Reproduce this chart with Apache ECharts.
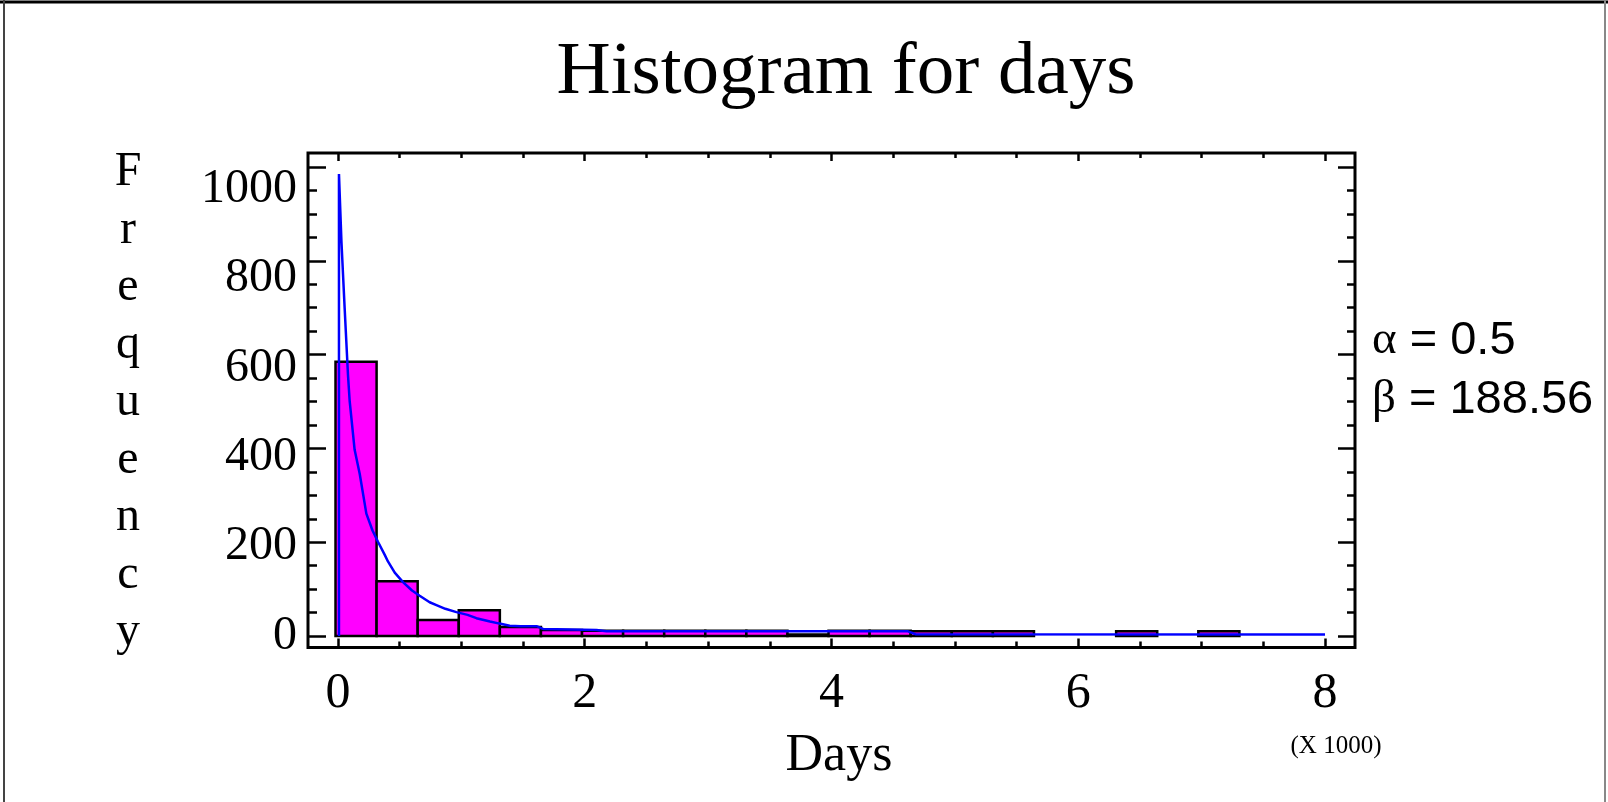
<!DOCTYPE html>
<html><head><meta charset="utf-8">
<script src="https://cdn.jsdelivr.net/npm/echarts@6/dist/echarts.min.js"></script>
<style>html,body{margin:0;padding:0;background:#fff}#c{width:1608px;height:802px}</style>
</head><body><div id="c"></div>
<script>
// ---- data ----
const binStart = -20;          // days
const binWidth = 333;          // days
const binCounts = [585,117,34,55,19,13,11,11,11,11,11,3,11,11,10,10,10,0,0,10,0,10,0,0];
const curveDays = [8,8,28,54,81,95,135,176,230,280,324,379,405,460,527,600,662,743,798,870,960,1050,1122,1232,1300,1392,1480,1609,1662,2095,2176,4620,4680,8000];
const curveFreq = [0,985,841,699,557,500,397,346,261,225,201,173,159,135,115,97,86,72,66,58,51,45,38,31,27,22,21,21,15,13,10,10,4,3];
const xMajorTicks = [0,2000,4000,6000,8000];
const xMinorTicks = [0,500,1000,1500,2000,2500,3000,3500,4000,4500,5000,5500,6000,6500,7000,7500,8000];
const xTickLabels = ['0','2','4','6','8'];
const yMajorTicks = [0,200,400,600,800,1000];
const yMinorTicks = [0,50,100,150,200,250,300,350,400,450,500,550,600,650,700,750,800,850,900,950,1000];
const yTickLabels = ['0','200','400','600','800','1000'];
const titleText = 'Histogram for days';
const xName = 'Days';
const xUnit = '(X 1000)';
const yName = 'Frequency';
const alphaText = '0.5';
const betaText = '188.56';

// ---- chart ----
const chart = echarts.init(document.getElementById('c'), null, {renderer:'canvas'});
const SERIF = 'Liberation Serif';
const SANS = 'Liberation Sans';

function xAx(pos, vals, len, labels) {
  return {
    type:'value', position:pos, min:-243, max:8243,
    axisLine:{show:false, onZero:false}, splitLine:{show:false},
    axisTick:{show:true, inside:true, length:len, customValues:vals, lineStyle:{color:'#000', width:2.5}},
    axisLabel: labels ? {show:true, customValues:xMajorTicks,
      formatter:(v)=>xTickLabels[xMajorTicks.indexOf(v)] ?? '',
      fontFamily:SERIF, fontSize:50, lineHeight:50, color:'#000', margin:21} : {show:false}
  };
}
function yAx(pos, vals, len) {
  return {
    type:'value', position:pos, min:-24.5, max:1029.8,
    axisLine:{show:false, onZero:false}, splitLine:{show:false},
    axisTick:{show:true, inside:true, length:len, customValues:vals, lineStyle:{color:'#000', width:2.5}},
    axisLabel:{show:false}
  };
}

const histData = [];
binCounts.forEach((c,i)=>{ if (c>0) histData.push([binStart+i*binWidth, binStart+(i+1)*binWidth, c]); });
const curveData = curveDays.map((d,i)=>[d, curveFreq[i]]);

const option = {
  animation:false,
  backgroundColor:'#fff',
  grid:{left:308, top:153, width:1047, height:494.5, show:true, borderColor:'#000', borderWidth:3, backgroundColor:'transparent'},
  xAxis:[
    xAx('bottom', xMajorTicks, 9, true),
    xAx('bottom', xMinorTicks, 6, false),
    xAx('top', xMajorTicks, 8, false),
    xAx('top', xMinorTicks, 5, false)
  ],
  yAxis:[
    yAx('left', yMajorTicks, 18),
    yAx('left', yMinorTicks, 9),
    yAx('right', yMajorTicks, 17),
    yAx('right', yMinorTicks, 8),
    {type:'value', position:'left', min:-25.5, max:1081,
     axisLine:{show:false, onZero:false}, splitLine:{show:false}, axisTick:{show:false},
     axisLabel:{show:true, customValues:yMajorTicks,
       formatter:(v)=>yTickLabels[yMajorTicks.indexOf(v)] ?? '',
       fontFamily:SERIF, fontSize:48, color:'#000', margin:11}}
  ],
  series:[
    {type:'custom', xAxisIndex:0, yAxisIndex:0, data:histData,
     encode:{x:[0,1], y:2},
     renderItem:(params, api)=>{
       const p0 = api.coord([api.value(0), api.value(2)]);
       const p1 = api.coord([api.value(1), 0]);
       return {type:'rect', shape:{x:p0[0], y:p0[1], width:p1[0]-p0[0], height:p1[1]-p0[1]},
               style:{fill:'#FF00FF', stroke:'#000', lineWidth:2.5}};
     }, z:2},
    {type:'line', xAxisIndex:0, yAxisIndex:0, data:curveData, showSymbol:false, symbol:'none',
     lineStyle:{color:'#0000FF', width:2.5}, z:3}
  ],
  graphic:[
    {type:'line', shape:{x1:0, y1:2, x2:1608, y2:2}, style:{stroke:'#000', lineWidth:3}},
    {type:'line', shape:{x1:4, y1:0, x2:4, y2:802}, style:{stroke:'#444', lineWidth:2}},
    {type:'line', shape:{x1:1605, y1:0, x2:1605, y2:802}, style:{stroke:'#888', lineWidth:2}},
    {type:'text', style:{text:titleText, x:846, y:73, font:'75px "Liberation Serif"', fill:'#000', textAlign:'center', textVerticalAlign:'middle'}},
    {type:'text', style:{text:xName, x:839, y:756, font:'52px "Liberation Serif"', fill:'#000', textAlign:'center', textVerticalAlign:'middle'}},
    {type:'text', style:{text:xUnit, x:1336, y:746, font:'25px "Liberation Serif"', fill:'#000', textAlign:'center', textVerticalAlign:'middle'}},
    {type:'text', style:{text:yName.split('').join('\n'), x:128, y:144, font:'48px "Liberation Serif"', lineHeight:57.5, fill:'#000', textAlign:'center', textVerticalAlign:'top'}},
    {type:'text', style:{text:'{g|α}{t| = '+alphaText+'}', x:1372, y:341, textAlign:'left', textVerticalAlign:'middle', fill:'#000',
      rich:{g:{fontFamily:SERIF, fontSize:47, fill:'#000'}, t:{fontFamily:SANS, fontSize:47, fill:'#000'}}}},
    {type:'text', style:{text:'{g|β}{t| = '+betaText+'}', x:1372, y:400, textAlign:'left', textVerticalAlign:'middle', fill:'#000',
      rich:{g:{fontFamily:SERIF, fontSize:47, fill:'#000'}, t:{fontFamily:SANS, fontSize:47, fill:'#000'}}}}
  ]
};
chart.setOption(option);
</script>
</body></html>
